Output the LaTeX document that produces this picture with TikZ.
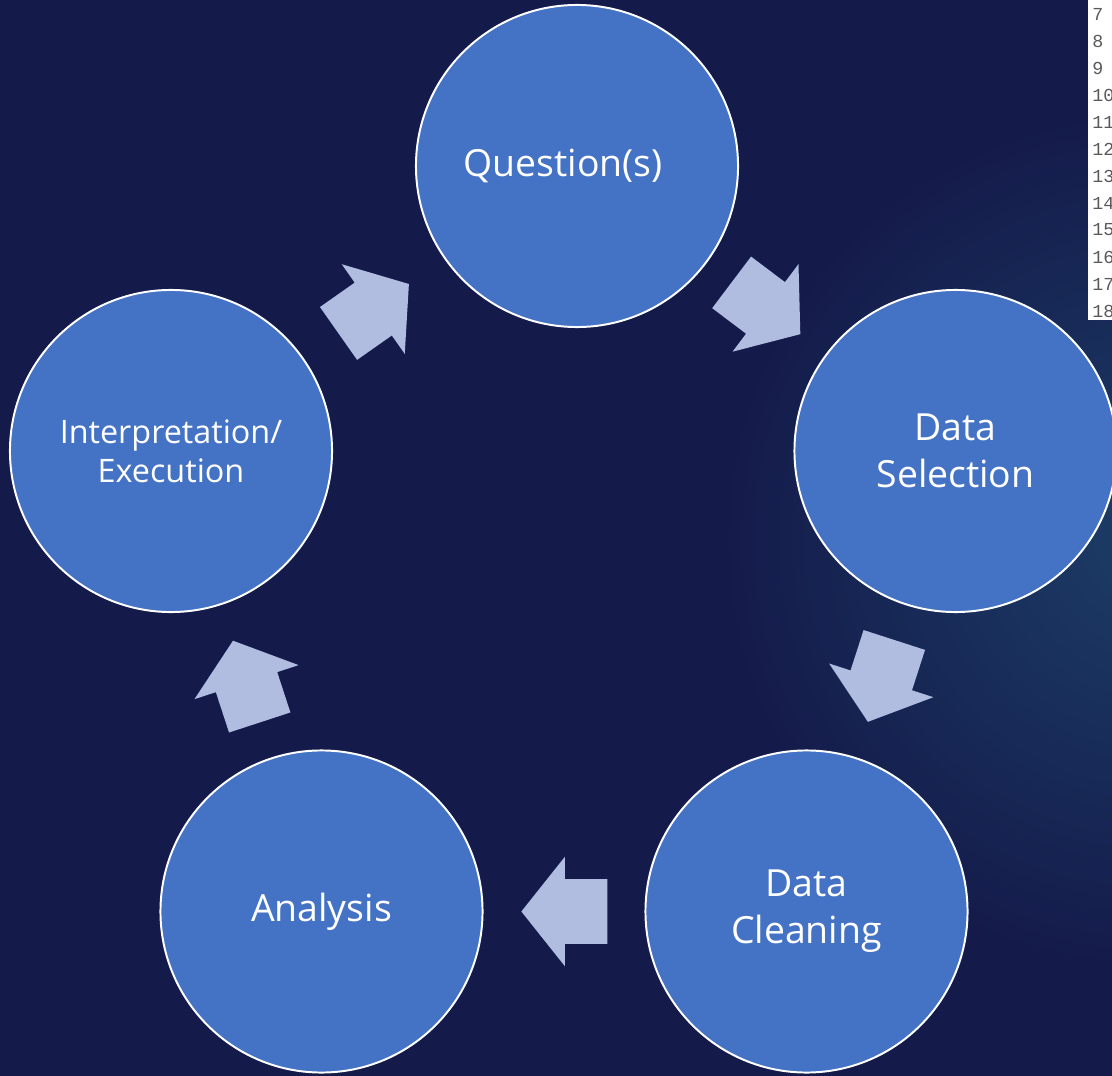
\documentclass[tikz,border=0pt]{standalone}
\usepackage{fontspec}
\setmainfont{Open Sans}
\setmonofont{Liberation Mono}
\usetikzlibrary{shapes.arrows,calc}
\definecolor{bgblue}{HTML}{141A4A}
\definecolor{glowblue}{HTML}{1C3D66}
\definecolor{circblue}{HTML}{4472C4}
\definecolor{arrowblue}{HTML}{B0BDE0}
\begin{document}
\begin{tikzpicture}[x=0.025cm,y=-0.025cm,
  main node/.style={circle,fill=circblue,draw=white,line width=1.4pt,minimum size=8.05cm,inner sep=0pt,text=white,align=center,font=\fontsize{26.6}{33.5}\selectfont},
  flow arrow/.style={single arrow,fill=arrowblue,draw=none,anchor=tip,minimum height=2.15cm,single arrow head extend=0.5625cm,single arrow tip angle=103,inner xsep=0pt,inner ysep=0.8cm},
  line no/.style={anchor=west,inner sep=0pt,text=black!65,font=\ttfamily\fontsize{13}{15}\selectfont}]

  % background
  \fill[bgblue] (0,0) rectangle (1112,1076);
  \begin{scope}
    \clip (0,0) rectangle (1112,1076);
    \shade[inner color=glowblue,outer color=bgblue] (1150,540) circle (11cm);
  \end{scope}
  \useasboundingbox (0,0) rectangle (1112,1076);

  % code panel, cut off at the right
  \begin{scope}
    \clip (1088,0) rectangle (1112,320);
    \fill[white] (1088,0) rectangle (1112,320);
    \foreach \n [count=\i from 0] in {7,...,18}
      \node[line no] (ln\n) at (1092,14+27*\i) {\n};
  \end{scope}

  \node[main node] (question) at (577,166) {Question(s)\hspace*{0.7cm}};
  \node[main node] (selection) at (955.5,451) {Data\\Selection};
  \node[main node] (cleaning) at (806.5,911.5) {Data\\Cleaning};
  \node[main node] (analysis) at (321.5,911.5) {Analysis};
  \node[main node,font=\fontsize{23}{27.5}\selectfont] (interp) at (171,451) {Interpretation/\\Execution};

  % tips sit half an arrow past the midpoints
  \node[flow arrow,rotate=-37] (a1) at ($(question)!0.5!(selection)!1.075cm!(selection)$) {};
  \node[flow arrow,rotate=-107.9] (a2) at ($(selection)!0.5!(cleaning)!1.075cm!(cleaning)$) {};
  \node[flow arrow,rotate=180] (a3) at ($(cleaning)!0.5!(analysis)!1.075cm!(analysis)$) {};
  \node[flow arrow,rotate=108.1] (a4) at ($(analysis)!0.5!(interp)!1.075cm!(interp)$) {};
  \node[flow arrow,rotate=35.1] (a5) at ($(interp)!0.5!(question)!1.075cm!(question)$) {};
\end{tikzpicture}
\end{document}
